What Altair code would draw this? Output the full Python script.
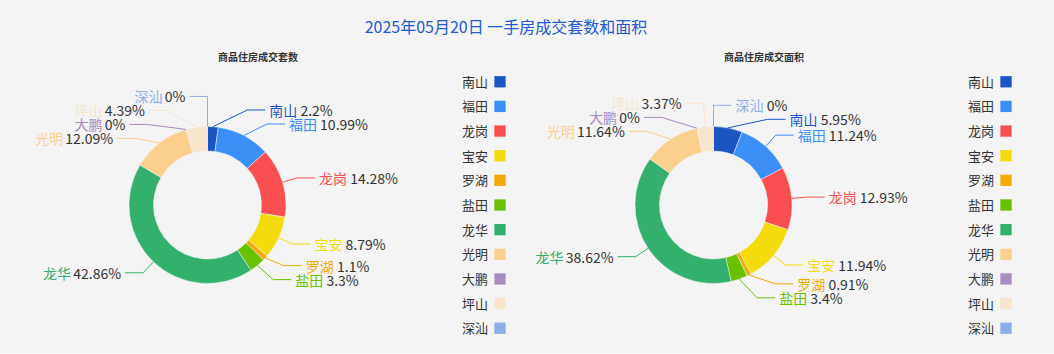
import math
import altair as alt
import pandas as pd

# ---------------- data ----------------
TITLE = "2025年05月20日 一手房成交套数和面积"
SUBTITLES = ["商品住房成交套数", "商品住房成交面积"]
NAMES = ["南山", "福田", "龙岗", "宝安", "罗湖", "盐田", "龙华", "光明", "大鹏", "坪山", "深汕"]
COLORS = ["#1b55c4", "#3c8ff7", "#f94f51", "#f4dc0c", "#f2aa06", "#68c101",
          "#33b06d", "#fbcf8e", "#a98cc0", "#f8e5cc", "#8eaee8"]
UNITS_PCT = [2.2, 10.99, 14.28, 8.79, 1.1, 3.3, 42.86, 12.09, 0, 4.39, 0]
AREA_PCT = [5.95, 11.24, 12.93, 11.94, 0.91, 3.4, 38.62, 11.64, 0, 3.37, 0]

# ---------------- style / layout constants ----------------
FONT = "Noto Sans CJK SC"
BG = "#f4f4f4"
TITLE_COLOR = "#2558d3"
TEXT_DARK = "#333333"
FS = 14                          # label font size
R_OUT, R_IN = 78.5, 54
LEN1, LEN2, GAP = 15, 18, 4      # leader line: radial part, horizontal part, gap to text
LINE_H = 14                      # label height used for overlap avoidance
ELL_B = 105                      # vertical semi-axis of label ellipse
TOP_KEEP = 97                    # labels this high keep their radial x
TOP_TIE_SIDE = (-1, 1)           # side of a label sitting exactly at 12 o'clock
PANEL_H = 280
HALF_W = [207.5, 197.5]
LEGEND_W = 101
LEGEND_FROM_CENTER = 292.5
CHAR_EM = {"%": 0.86, ".": 0.27, " ": 0.224}


def fmt(v):
    return f"{v:g}%"


def text_w(s):
    w = 0.0
    for ch in s:
        if ch.isdigit():
            w += 0.555
        elif ch in CHAR_EM:
            w += CHAR_EM[ch]
        else:
            w += 1.0
    return w * FS


def label_layout(values, tie_side):
    total = 0.0
    for v in values:
        total += v
    unit = 2 * math.pi / total
    cur = -math.pi / 2
    items = []
    ra = R_OUT + LEN1
    for name, v in zip(NAMES, values):
        end = cur + v * unit
        mid = (cur + end) / 2
        cur = end
        cx, cy = math.cos(mid), math.sin(mid)
        if abs(cx) < 1e-9:
            side = tie_side
        else:
            side = -1 if cx < 0 else 1
        items.append(dict(name=name, v=v, side=side,
                          x1=R_OUT * cx, y1=R_OUT * cy,
                          x2=ra * cx, y2=ra * cy))
    for s in (-1, 1):
        grp = sorted([it for it in items if it["side"] == s], key=lambda it: it["y2"])
        blocks = []

        def start(b):
            return sum(m["y2"] for m in b) / len(b) - (len(b) - 1) * LINE_H / 2

        for it in grp:
            blocks.append([it])
            while len(blocks) > 1:
                a, b = blocks[-2], blocks[-1]
                if start(a) + len(a) * LINE_H > start(b):
                    blocks[-2:] = [a + b]
                else:
                    break
        for b in blocks:
            st = start(b)
            for k, m in enumerate(b):
                m["ly"] = st + k * LINE_H
    for it in items:
        nat = abs(it["x2"])
        if abs(it["ly"] - it["y2"]) > 0.5 and abs(it["ly"]) < TOP_KEEP:
            ex = ra * math.sqrt(1 - (it["ly"] / ELL_B) ** 2)
        else:
            ex = nat
        it["ex"] = it["side"] * ex
        it["x3"] = it["ex"] + it["side"] * LEN2
        it["tx"] = it["x3"] + it["side"] * GAP
    return items


def color_enc():
    return alt.Color("name:N", scale=alt.Scale(domain=NAMES, range=COLORS), legend=None)


def pie_panel(values, half_w, tie_side):
    items = label_layout(values, tie_side)
    slices = pd.DataFrame({"name": NAMES, "value": values, "ord": list(range(len(NAMES)))})
    line_rows, label_rows = [], []
    space = CHAR_EM[" "] * FS
    for it in items:
        pts = [(it["x1"], it["y1"]), (it["ex"], it["ly"]), (it["x3"], it["ly"])]
        for k, (px, py) in enumerate(pts):
            line_rows.append({"name": it["name"], "k": k, "px": px, "py": py})
        pct = fmt(it["v"])
        if it["side"] > 0:
            name_x, name_align = it["tx"], "left"
            pct_x = it["tx"] + text_w(it["name"]) + space
        else:
            pct_x = it["tx"]
            name_x = it["tx"] - text_w(pct) - space
        label_rows.append({"name": it["name"], "pct": pct, "nx": name_x, "px": pct_x,
                           "ty": it["ly"], "side": it["side"]})
    lines = pd.DataFrame(line_rows)
    labels = pd.DataFrame(label_rows)

    xs = alt.Scale(domain=[-half_w, half_w], nice=False, zero=False)
    ys = alt.Scale(domain=[-PANEL_H / 2, PANEL_H / 2], nice=False, zero=False, reverse=True)
    X = lambda f: alt.X(f, type="quantitative", scale=xs, axis=None)
    Y = lambda f: alt.Y(f, type="quantitative", scale=ys, axis=None)

    arcs = alt.Chart(slices).transform_filter("datum.value > 0").mark_arc(
        outerRadius=R_OUT, innerRadius=R_IN, stroke=BG, strokeWidth=0.5
    ).encode(
        theta=alt.Theta("value:Q", stack=True),
        color=color_enc(),
        order=alt.Order("ord:Q"),
    )
    leader = alt.Chart(lines).mark_line(strokeWidth=1).encode(
        x=X("px"), y=Y("py"), color=color_enc(), detail="name:N", order=alt.Order("k:Q")
    )
    base_txt = dict(baseline="middle", font=FONT, fontSize=FS, dy=2)
    name_r = alt.Chart(labels).transform_filter("datum.side > 0").mark_text(
        align="left", **base_txt).encode(x=X("nx"), y=Y("ty"), text="name:N", color=color_enc())
    pct_r = alt.Chart(labels).transform_filter("datum.side > 0").mark_text(
        align="left", color=TEXT_DARK, **base_txt).encode(x=X("px"), y=Y("ty"), text="pct:N")
    name_l = alt.Chart(labels).transform_filter("datum.side < 0").mark_text(
        align="right", **base_txt).encode(x=X("nx"), y=Y("ty"), text="name:N", color=color_enc())
    pct_l = alt.Chart(labels).transform_filter("datum.side < 0").mark_text(
        align="right", color=TEXT_DARK, **base_txt).encode(x=X("px"), y=Y("ty"), text="pct:N")
    return alt.layer(arcs, leader, name_r, pct_r, name_l, pct_l).properties(
        width=2 * half_w, height=PANEL_H)


def legend_panel(half_w):
    leg = pd.DataFrame({"name": NAMES})
    sym_x = LEGEND_FROM_CENTER - half_w
    y = alt.Y("name:N", scale=alt.Scale(type="point", domain=NAMES, padding=0.68), axis=None)
    sym = alt.Chart(leg).mark_square(size=128, opacity=1).encode(
        x=alt.value(sym_x), y=y, color=color_enc())
    txt = alt.Chart(leg).mark_text(align="right", baseline="middle", font=FONT, fontSize=13,
                                   dy=1, color=TEXT_DARK).encode(
        x=alt.value(sym_x - 12), y=y, text="name:N")
    return alt.layer(sym, txt).properties(width=LEGEND_W, height=PANEL_H)


def group(values, half_w, sub, tie_side):
    return alt.hconcat(
        pie_panel(values, half_w, tie_side), legend_panel(half_w), spacing=0,
        title=alt.Title(sub, fontSize=10, fontWeight="bold", color=TEXT_DARK, font=FONT,
                        offset=2, anchor="middle"),
    )


chart = alt.hconcat(
    group(UNITS_PCT, HALF_W[0], SUBTITLES[0], TOP_TIE_SIDE[0]),
    group(AREA_PCT, HALF_W[1], SUBTITLES[1], TOP_TIE_SIDE[1]),
    spacing=0,
    title=alt.Title(TITLE, fontSize=16, fontWeight="normal", color=TITLE_COLOR, font=FONT,
                    offset=17, anchor="middle"),
).properties(
    padding={"left": 0, "top": 20, "right": 42, "bottom": 8},
    background=BG,
).configure_view(strokeWidth=0)

chart.save("out.html", embed_options={"renderer": "svg", "actions": False})
